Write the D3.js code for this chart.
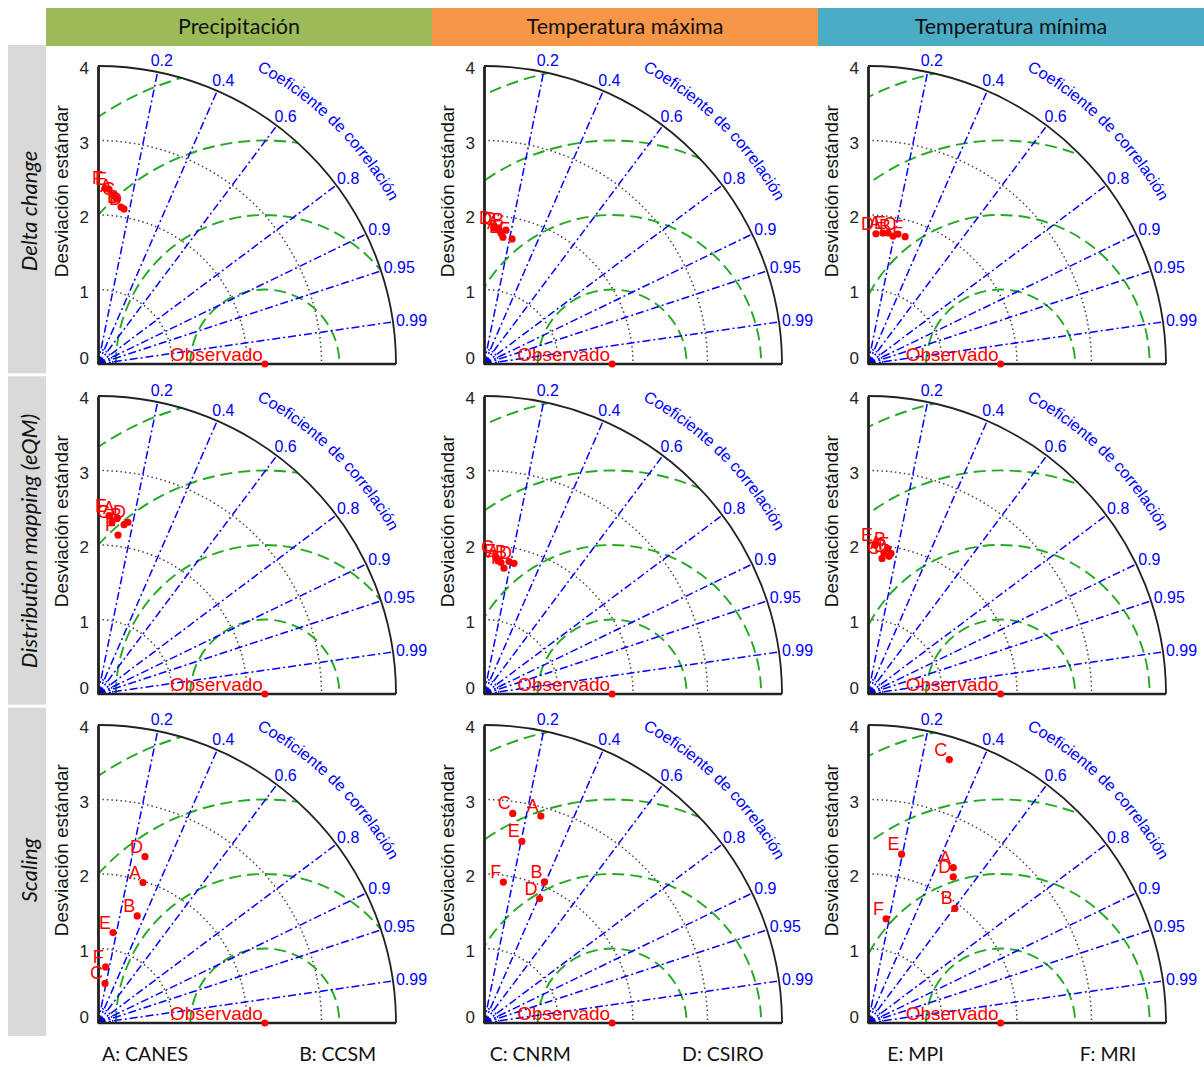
<!DOCTYPE html>
<html>
<head>
<meta charset="utf-8">
<script src="https://cdn.jsdelivr.net/npm/d3@7"></script>
<style>
  body { margin: 0; background: #fff; }
  svg { display: block; }
  .panel text { font-family: "Liberation Sans", Arial, sans-serif; }
  .head text, .rowlab text, .legend text { font-family: Lato, "Open Sans", sans-serif; }
</style>
</head>
<body>
<script>
// columns / rows / models
const variables = ['Precipitación', 'Temperatura máxima', 'Temperatura mínima'];
const headerColors = ['#9BBB59', '#F79646', '#4BACC6'];
const methods = ['Delta change', 'Distribution mapping (eQM)', 'Scaling'];
const models = ['A', 'B', 'C', 'D', 'E', 'F'];
const modelNames = ['CANES', 'CCSM', 'CNRM', 'CSIRO', 'MPI', 'MRI'];

// observed std per variable
const refStd = [2.24, 1.72, 1.78];

const stdTicks = [0, 1, 2, 3, 4];
const corrTicks = [0.2, 0.4, 0.6, 0.8, 0.9, 0.95, 0.99];
const stdArcs = [1, 2, 3];
const rmsLevels = [1, 2, 3, 4];

// model std / correlation, one row per variable, order A..F
const stdDelta = [
  [2.27, 2.13, 2.23, 2.11, 2.35, 2.36],
  [1.77, 1.82, 1.82, 1.83, 1.72, 1.72],
  [1.77, 1.75, 1.79, 1.75, 1.78, 1.78]
];
const corrDelta = [
  [0.095, 0.145, 0.114, 0.165, 0.063, 0.040],
  [0.129, 0.162, 0.103, 0.073, 0.148, 0.219],
  [0.113, 0.192, 0.225, 0.061, 0.151, 0.280]
];
const stdEqm = [
  [2.37, 2.30, 2.31, 2.34, 2.40, 2.15],
  [1.78, 1.81, 1.84, 1.80, 1.80, 1.71],
  [1.91, 1.97, 1.83, 1.87, 2.00, 1.91]
];
const corrEqm = [
  [0.108, 0.152, 0.081, 0.172, 0.062, 0.125],
  [0.128, 0.186, 0.088, 0.224, 0.104, 0.157],
  [0.112, 0.136, 0.103, 0.151, 0.047, 0.162]
];
const stdScaling = [
  [1.98, 1.53, 0.54, 2.32, 1.23, 0.76],
  [2.88, 2.06, 2.84, 1.83, 2.49, 1.91],
  [2.38, 1.93, 3.70, 2.27, 2.31, 1.42]
];
const corrScaling = [
  [0.305, 0.344, 0.174, 0.272, 0.164, 0.135],
  [0.265, 0.394, 0.136, 0.408, 0.204, 0.136],
  [0.481, 0.604, 0.295, 0.504, 0.195, 0.171]
];
const stdData = [stdDelta, stdEqm, stdScaling];
const corrData = [corrDelta, corrEqm, corrScaling];

const W = 1204, H = 1067;
const colX = [98, 484, 868];
const rowY = [364, 694, 1023];

const svg = d3.select('body').append('svg')
  .attr('width', W)
  .attr('height', H);

svg.append('rect').attr('width', W).attr('height', H).attr('fill', '#fff');

// header bands
const xBand = d3.scaleBand().domain(variables).range([46, 1204]);
const head = svg.append('g').attr('class', 'head');
head.selectAll('rect').data(variables).enter().append('rect')
  .attr('x', d => xBand(d))
  .attr('y', 8)
  .attr('width', xBand.bandwidth())
  .attr('height', 38)
  .attr('fill', (d, i) => headerColors[i]);
head.selectAll('text').data(variables).enter().append('text')
  .attr('x', d => xBand(d) + xBand.bandwidth() / 2)
  .attr('y', 34)
  .attr('text-anchor', 'middle')
  .attr('font-size', 21.5)
  .attr('fill', '#111')
  .text(d => d);

// row label bands
const yBand = d3.scaleBand().domain(methods).range([45, 1036]).paddingInner(0.009);
const rowlab = svg.append('g').attr('class', 'rowlab');
rowlab.selectAll('rect').data(methods).enter().append('rect')
  .attr('x', 8)
  .attr('y', d => yBand(d))
  .attr('width', 38)
  .attr('height', yBand.bandwidth())
  .attr('fill', '#D9D9D9');
rowlab.selectAll('text').data(methods).enter().append('text')
  .attr('transform', (d, i) => 'translate(37,' + (rowY[i] - 153) + ') rotate(-90)')
  .attr('text-anchor', 'middle')
  .attr('font-size', 22)
  .attr('font-style', 'italic')
  .attr('fill', '#111')
  .text(d => d);

// legend
const legX = d3.scalePoint().domain(models).range([145, 1108]);
svg.append('g').attr('class', 'legend')
  .selectAll('text').data(models).enter().append('text')
  .attr('x', d => legX(d))
  .attr('y', 1061)
  .attr('text-anchor', 'middle')
  .attr('font-size', 19.5)
  .attr('fill', '#111')
  .text((d, i) => d + ': ' + modelNames[i]);

const r = d3.scaleLinear().domain([0, 4]).range([0, 298]);
const toXY = (s, c) => [r(s * c), -r(s * Math.sqrt(1 - c * c))];

const blue = '#0000ff';
const green = '#22aa22';
const red = '#ff0000';

function drawPanel (g, id, ref, stds, corrs) {
  const rMax = r(4);

  g.append('clipPath').attr('id', 'clip' + id)
    .append('path')
    .attr('d', 'M0,0 L0,' + (-rMax) + ' A' + rMax + ',' + rMax + ' 0 0 1 ' + rMax + ',0 Z');

  // std arcs (dotted)
  g.selectAll('.std-arc').data(stdArcs).enter().append('path')
    .attr('class', 'std-arc')
    .attr('d', s => {
      const p = d3.path();
      p.arc(0, 0, r(s), -Math.PI / 2, 0);
      return p.toString();
    })
    .attr('fill', 'none')
    .attr('stroke', '#444')
    .attr('stroke-width', 1.5)
    .attr('stroke-dasharray', '1.5,3');

  // rms circles (dashed, clipped)
  g.append('g').attr('clip-path', 'url(#clip' + id + ')')
    .selectAll('path').data(rmsLevels).enter().append('path')
    .attr('d', d => {
      const p = d3.path();
      p.arc(r(ref), 0, r(d), 0, 2 * Math.PI);
      return p.toString();
    })
    .attr('fill', 'none')
    .attr('stroke', green)
    .attr('stroke-width', 1.9)
    .attr('stroke-dasharray', '12,6');

  // correlation spokes
  g.selectAll('.spoke').data(corrTicks).enter().append('line')
    .attr('class', 'spoke')
    .attr('x1', 0).attr('y1', 0)
    .attr('x2', c => toXY(4, c)[0])
    .attr('y2', c => toXY(4, c)[1])
    .attr('stroke', blue)
    .attr('stroke-width', 1.5)
    .attr('stroke-dasharray', '8,3,2,3');

  // small blue arc at origin
  const pa = d3.path();
  pa.arc(0, 0, r(0.2), -Math.PI / 2, 0);
  g.append('path').attr('d', pa.toString())
    .attr('fill', 'none').attr('stroke', blue)
    .attr('stroke-width', 1.3).attr('stroke-dasharray', '2,2');
  const pb = d3.path();
  pb.moveTo(0, 0); pb.arc(0, 0, 7, -Math.PI / 2, 0); pb.closePath();
  g.append('path').attr('d', pb.toString()).attr('fill', '#0000cc');

  // outer arc
  const po = d3.path();
  po.arc(0, 0, rMax, -Math.PI / 2, 0);
  g.append('path').attr('d', po.toString())
    .attr('fill', 'none').attr('stroke', '#222').attr('stroke-width', 1.8);

  // axes
  const yAxisScale = d3.scaleLinear().domain([0, 4]).range([0, -rMax]);
  const yAx = g.append('g').call(d3.axisLeft(yAxisScale)
    .tickValues(stdTicks).tickFormat(d3.format('d')).tickSize(0).tickPadding(9));
  yAx.select('.domain').attr('stroke', '#222').attr('stroke-width', 2.8);
  yAx.selectAll('.tick text')
    .attr('font-size', 17)
    .attr('font-family', '"Liberation Sans", Arial, sans-serif')
    .attr('fill', '#222')
    .attr('dy', d => d === 0 ? '-0.05em' : '0.45em');
  g.append('line')
    .attr('x1', 0).attr('y1', 0).attr('x2', rMax).attr('y2', 0)
    .attr('stroke', '#222').attr('stroke-width', 2.4);

  // correlation tick labels
  g.selectAll('.clab').data(corrTicks).enter().append('text')
    .attr('class', 'clab')
    .attr('x', c => {
      const s = Math.sqrt(1 - c * c);
      return toXY(4, c)[0] - 8 * s * s * s + 3 * c;
    })
    .attr('y', c => toXY(4, c)[1] - 12 * Math.sqrt(1 - c * c) + 6)
    .attr('font-size', 16)
    .attr('fill', blue)
    .text(c => String(c));

  // curved axis title
  const ang0 = 62 * Math.PI / 180, ang1 = 25 * Math.PI / 180, rt = 334;
  g.append('path')
    .attr('id', 'ctitle' + id)
    .attr('d', 'M' + (rt * Math.cos(ang0)) + ',' + (-rt * Math.sin(ang0)) +
      ' A' + rt + ',' + rt + ' 0 0 1 ' + (rt * Math.cos(ang1)) + ',' + (-rt * Math.sin(ang1)))
    .attr('fill', 'none');
  g.append('text')
    .attr('font-size', 16)
    .attr('fill', blue)
    .append('textPath')
    .attr('href', '#ctitle' + id)
    .attr('startOffset', 2)
    .attr('textLength', 190)
    .attr('lengthAdjust', 'spacingAndGlyphs')
    .text('Coeficiente de correlación');

  // y title
  g.append('text')
    .attr('transform', 'translate(-30,' + (-r(2.32)) + ') rotate(-90)')
    .attr('text-anchor', 'middle')
    .attr('font-size', 19)
    .attr('fill', '#111')
    .text('Desviación estándar');

  // observed
  g.append('circle')
    .attr('cx', r(ref)).attr('cy', 0).attr('r', 3.5).attr('fill', red);
  g.append('text')
    .attr('x', r(ref) - 2).attr('y', -3)
    .attr('text-anchor', 'end')
    .attr('font-size', 19)
    .attr('fill', red)
    .text('Observado');

  // models
  const pts = models.map((m, i) => ({ m, xy: toXY(stds[i], corrs[i]) }));
  g.selectAll('.pt').data(pts).enter().append('circle')
    .attr('class', 'pt')
    .attr('cx', d => d.xy[0]).attr('cy', d => d.xy[1])
    .attr('r', 3.6).attr('fill', red);
  g.selectAll('.plab').data(pts).enter().append('text')
    .attr('class', 'plab')
    .attr('x', d => d.xy[0] - 2).attr('y', d => d.xy[1] - 4)
    .attr('text-anchor', 'end')
    .attr('font-size', 18)
    .attr('fill', red)
    .text(d => d.m);
}

methods.forEach((meth, ri) => {
  variables.forEach((v, ci) => {
    const g = svg.append('g')
      .attr('class', 'panel')
      .attr('transform', 'translate(' + colX[ci] + ',' + rowY[ri] + ')');
    drawPanel(g, ri + '_' + ci, refStd[ci], stdData[ri][ci], corrData[ri][ci]);
  });
});
</script>
</body>
</html>
